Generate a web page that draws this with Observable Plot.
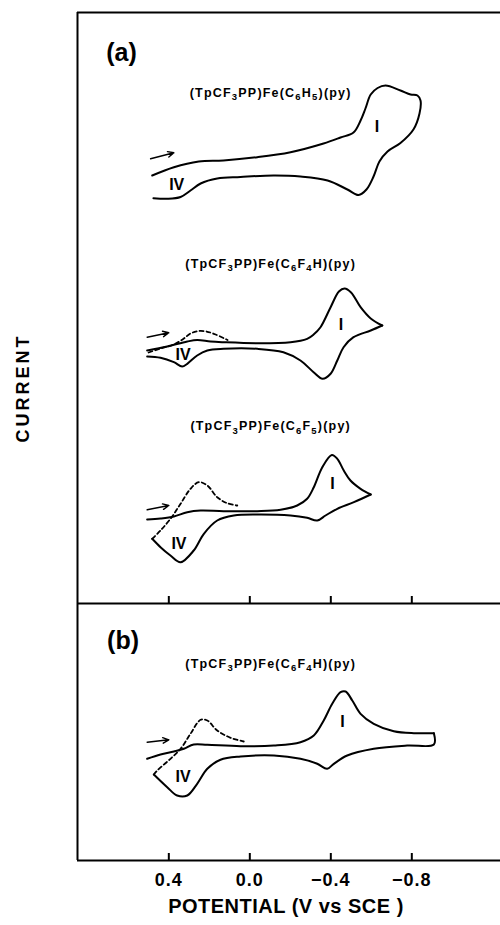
<!DOCTYPE html>
<html>
<head>
<meta charset="utf-8">
<script src="https://cdn.jsdelivr.net/npm/d3@7"></script>
<script src="https://cdn.jsdelivr.net/npm/@observablehq/plot@0.6"></script>
<style>
  body { margin: 0; background: #fff; }
  g[aria-label="x-axis tick label"] text { letter-spacing: 1px; }
</style>
</head>
<body>
<div id="chart"></div>
<script>
// ---- axis ticks (potential, V vs SCE) ----
const xTicks = [0.4, 0.0, -0.4, -0.8];
const xDomain = [0.851, -1.238];

// ---- compound names and stacking offsets (current, arbitrary units) ----
const traceNames = [
  "(TpCF3PP)Fe(C6H5)(py)",
  "(TpCF3PP)Fe(C6F4H)(py)",
  "(TpCF3PP)Fe(C6F5)(py)",
  "(TpCF3PP)Fe(C6F4H)(py)"
];
const traceOffsets = [684, 515, 348, 112];
const nameCurrent = [84, 82, 86.5, 85];
const nameV = -0.103;

// ---- panel boundaries and labels ----
const panelRules = [0, 257, 848];
const panelLabels = ["(a)", "(b)"];
const panelLabelV = [0.634, 0.626];
const panelLabelY = [807.5, 220];
const yLabel = "CURRENT";
const xLabel = "POTENTIAL (V vs SCE )";

// ---- voltammograms: [potential V, current a.u.] ----
// (a) C6H5: one continuous scan
const c1Scan = [[0.482,1],[0.375,9.3],[0.252,15],[0.130,16],[-0.037,19.3],[-0.201,24.3],[-0.364,33],[-0.448,39],[-0.512,44],[-0.547,56],[-0.571,68],[-0.597,82],[-0.631,88.5],[-0.670,91],[-0.744,86],[-0.794,82],[-0.828,81],[-0.843,76],[-0.838,63],[-0.808,47],[-0.744,33.5],[-0.680,25],[-0.640,15],[-0.611,0],[-0.576,-13],[-0.537,-18.5],[-0.482,-13],[-0.384,-4],[-0.250,0],[-0.117,1],[0.046,-0.5],[0.161,-2],[0.243,-7],[0.293,-14],[0.342,-20.5],[0.406,-22.3],[0.476,-21.7]];

// (a) C6F4H
const c2Fwd = [[0.507,-5],[0.408,-1],[0.309,4],[0.260,5.5],[0.194,4],[0.130,3.3],[-0.037,2.3],[-0.201,3.3],[-0.283,6.7],[-0.315,11],[-0.349,18.3],[-0.399,38.3],[-0.440,54],[-0.468,57],[-0.500,53],[-0.547,38.3],[-0.597,27],[-0.654,20]];
const c2Rev = [[-0.597,15],[-0.512,8.3],[-0.463,-1.7],[-0.432,-15],[-0.399,-28.3],[-0.359,-33.3],[-0.315,-26.7],[-0.250,-15],[-0.166,-6.7],[-0.037,-3.3],[0.130,-3.3],[0.210,-5],[0.260,-10],[0.309,-18.3],[0.334,-21],[0.375,-16.7],[0.441,-12.3],[0.507,-11]];
const c2Dash = [[0.500,-7],[0.441,-3],[0.382,0.5],[0.332,6],[0.293,12],[0.253,14.5],[0.214,14],[0.169,11],[0.110,5.5]];

// (a) C6F5
const c3Fwd = [[0.507,-7],[0.441,-6],[0.375,-4],[0.309,0.3],[0.243,2],[0.130,1.3],[-0.037,1.3],[-0.152,2.7],[-0.234,7],[-0.283,13.7],[-0.316,25.3],[-0.358,45.3],[-0.405,57.5],[-0.432,53.7],[-0.464,42],[-0.497,32],[-0.547,23.7],[-0.597,18]];
const c3Rev = [[-0.514,10.3],[-0.432,3.7],[-0.374,-3],[-0.333,-8],[-0.283,-5.3],[-0.201,-3],[-0.037,-2],[0.079,-3],[0.161,-8],[0.227,-21.3],[0.277,-38],[0.342,-49.7],[0.392,-43],[0.441,-34.7],[0.482,-26.3]];
const c3Dash = [[0.482,-26.3],[0.441,-18],[0.392,-6.3],[0.342,8.7],[0.293,23.7],[0.252,30.3],[0.210,27],[0.161,15.3],[0.112,9.3],[0.062,7]];

// (b) C6F4H
const c4Fwd = [[0.507,-10.3],[0.441,-6],[0.375,-3],[0.326,-0.3],[0.277,4],[0.210,3.7],[0.046,2.3],[-0.119,3],[-0.250,6.3],[-0.316,13],[-0.365,28],[-0.407,44.7],[-0.448,56.3],[-0.473,57],[-0.506,48],[-0.547,34.7],[-0.612,24.7],[-0.711,17.3],[-0.810,15.3],[-0.909,15.3]];
const c4Rev = [[-0.909,4],[-0.777,3],[-0.612,-0.3],[-0.481,-7],[-0.415,-15.3],[-0.382,-20.3],[-0.333,-15.3],[-0.250,-10.3],[-0.119,-7],[0.046,-8],[0.145,-11.3],[0.210,-20.3],[0.260,-35.3],[0.309,-47],[0.359,-47],[0.408,-38.7],[0.474,-26]];
const c4Dash = [[0.474,-26],[0.457,-22],[0.392,-10.3],[0.342,-0.3],[0.293,14.7],[0.243,28.7],[0.210,28],[0.161,18],[0.095,10.7],[0.030,7]];

// scan-direction arrows: [V1, I1, V2, I2]
const arrowData = [[0.490,17.7,0.375,23.7],[0.507,8.3,0.400,12.7],[0.507,2.7,0.400,7],[0.507,6.3,0.400,8.7]];

// wave labels: [trace, text, V, I]
const waveLabels = [
  [0,"IV",0.361,-8],[0,"I",-0.628,50],
  [1,"IV",0.330,-9],[1,"I",-0.450,21],
  [2,"IV",0.350,-31.5],[2,"I",-0.408,29],
  [3,"IV",0.330,-28],[3,"I",-0.458,26.5]
];

// ---- build tables ----
const traces = [
  {segs: [["solid", c1Scan]]},
  {segs: [["solid", c2Fwd], ["solid", [c2Fwd[c2Fwd.length-1], ...c2Rev]], ["dash", c2Dash]]},
  {segs: [["solid", c3Fwd], ["solid", [c3Fwd[c3Fwd.length-1], ...c3Rev]], ["dash", c3Dash]]},
  {segs: [["solid", c4Fwd], ["solid", [c4Fwd[c4Fwd.length-1], ...c4Rev]], ["dash", c4Dash]]}
];
const solidRows = [], dashRows = [];
traces.forEach((t, i) => {
  t.segs.forEach(([kind, pts], j) => {
    pts.forEach(([v, c]) => {
      (kind === "solid" ? solidRows : dashRows).push({id: `${i}-${j}`, v, y: c + traceOffsets[i]});
    });
  });
});
const arrows = arrowData.map(([v1, c1, v2, c2], i) => ({v1, v2, y1: c1 + traceOffsets[i], y2: c2 + traceOffsets[i]}));
const labels = waveLabels.map(([i, text, v, c]) => ({text, v, y: c + traceOffsets[i]}));
const names = traceNames.map((text, i) => ({text, v: nameV, y: nameCurrent[i] + traceOffsets[i]}));
const panels = panelLabels.map((text, i) => ({text, v: panelLabelV[i], y: panelLabelY[i]}));
const tickRows = [];
[panelRules[0], panelRules[1]].forEach(base => xTicks.forEach(v => tickRows.push({v, y1: base, y2: base + 7})));

const plot = Plot.plot({
  width: 500,
  height: 925,
  marginLeft: 77,
  marginRight: 0,
  marginTop: 12,
  marginBottom: 65,
  style: {fontFamily: "'Liberation Sans', Arial, 'DejaVu Sans', sans-serif", background: "white", color: "black"},
  x: {domain: xDomain},
  y: {domain: [0, 848], axis: null},
  marks: [
    Plot.axisX({ticks: xTicks, tickFormat: d3.format(".1f"), tickSize: 0, tickPadding: 13, fontSize: 18, fontWeight: "bold", label: null}),
    Plot.ruleY(panelRules, {y: d => d, stroke: "black", strokeWidth: 2}),
    Plot.ruleX([xDomain[0]], {x: d => d, stroke: "black", strokeWidth: 2}),
    Plot.ruleX(tickRows, {x: "v", y1: "y1", y2: "y2", stroke: "black", strokeWidth: 2}),
    Plot.line(solidRows, {x: "v", y: "y", z: "id", stroke: "black", strokeWidth: 2, curve: "catmull-rom"}),
    Plot.line(dashRows, {x: "v", y: "y", z: "id", stroke: "black", strokeWidth: 1.8, strokeDasharray: "4,3", curve: "catmull-rom"}),
    Plot.arrow(arrows, {x1: "v1", y1: "y1", x2: "v2", y2: "y2", stroke: "black", strokeWidth: 1.4, headLength: 7, headAngle: 50}),
    Plot.text(labels, {x: "v", y: "y", text: "text", fontSize: 16, fontWeight: "bold", fill: "black"}),
    Plot.text(names, {x: "v", y: "y", text: "text", fontSize: 12.5, fontWeight: "bold", fill: "black"}),
    Plot.text(panels, {x: "v", y: "y", text: "text", fontSize: 25, fontWeight: "bold", fill: "black"}),
    Plot.text([yLabel], {text: d => d, frameAnchor: "left", rotate: -90, dx: -54, dy: 6, fontSize: 18, fontWeight: "bold", fill: "black"}),
    Plot.text([xLabel], {text: d => d, frameAnchor: "bottom", dy: 52, dx: -3, fontSize: 20, fontWeight: "bold", fill: "black"})
  ]
});

// text post-processing: letter spacing and chemical subscripts
const NS = "http://www.w3.org/2000/svg";
plot.querySelectorAll("text").forEach(t => {
  const s = t.textContent;
  if (s === yLabel) { t.style.letterSpacing = "3px"; return; }
  if (s === xLabel) { t.style.letterSpacing = "0.5px"; return; }
  if (!traceNames.includes(s)) return;
  t.style.letterSpacing = "1.2px";
  const parts = s.split(/(\d)/).filter(p => p !== "");
  t.textContent = "";
  let lowered = false;
  parts.forEach(p => {
    const span = document.createElementNS(NS, "tspan");
    span.textContent = p;
    if (/^\d$/.test(p)) {
      span.style.fontSize = "9.5px";
      span.setAttribute("dy", lowered ? "0" : "3.5");
      lowered = true;
    } else if (lowered) {
      span.setAttribute("dy", "-3.5");
      lowered = false;
    }
    t.appendChild(span);
  });
});
document.getElementById("chart").append(plot);
</script>
</body>
</html>
